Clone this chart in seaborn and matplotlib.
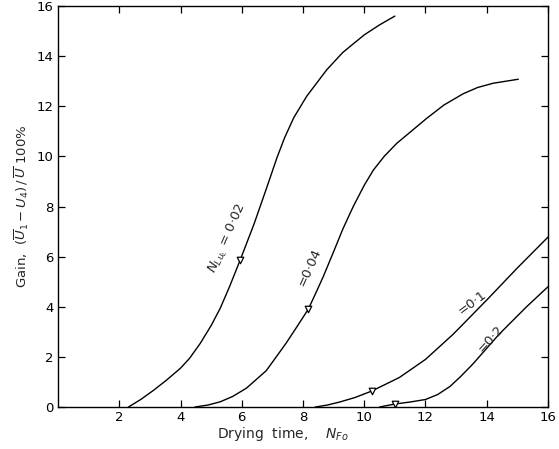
import matplotlib
matplotlib.use("Agg")
import matplotlib.pyplot as plt
import seaborn as sns
import pandas as pd

# ---- data ----
x_002 = [2.30, 2.7, 3.1, 3.55, 4.0, 4.3, 4.65, 5.0, 5.3, 5.6, 5.95, 6.4, 6.8, 7.15, 7.4, 7.7,
         8.12, 8.77, 9.3, 10.0, 10.5, 11.0]
y_002 = [0.0, 0.3, 0.65, 1.08, 1.55, 1.95, 2.55, 3.25, 3.95, 4.8, 5.87, 7.3, 8.7, 9.95, 10.75, 11.55,
         12.4, 13.45, 14.15, 14.85, 15.25, 15.6]

x_004 = [4.47, 4.9, 5.3, 5.7, 6.15, 6.8, 7.45, 7.8, 8.17, 8.4, 8.66, 9.0, 9.3, 9.64, 10.0, 10.3,
         10.65, 11.06, 12.04, 12.6, 13.23, 13.7, 14.21, 15.03]
y_004 = [0.0, 0.08, 0.21, 0.42, 0.75, 1.45, 2.55, 3.2, 3.9, 4.5, 5.2, 6.2, 7.1, 8.0, 8.85, 9.46,
         10.0, 10.52, 11.52, 12.05, 12.5, 12.75, 12.92, 13.08]

x_01 = [8.4, 8.8, 9.2, 9.7, 10.25, 11.15, 12.0, 12.9, 14.0, 15.0, 16.0]
y_01 = [0.0, 0.08, 0.2, 0.38, 0.64, 1.18, 1.9, 2.9, 4.27, 5.55, 6.78]

x_02 = [10.5, 11.0, 11.5, 12.0, 12.4, 12.8, 13.15, 13.55, 14.4, 15.3, 16.0]
y_02 = [0.0, 0.12, 0.2, 0.3, 0.5, 0.82, 1.22, 1.72, 2.9, 4.0, 4.8]

series_names = ["0·02", "0·04", "0·1", "0·2"]
marker_x = [5.95, 8.17, 10.25, 11.0]
marker_y = [5.87, 3.9, 0.64, 0.12]

x_ticks = [2, 4, 6, 8, 10, 12, 14, 16]
y_ticks = [0, 2, 4, 6, 8, 10, 12, 14, 16]

# ---- build tables ----
frames = []
for name, xs, ys in zip(series_names, [x_002, x_004, x_01, x_02], [y_002, y_004, y_01, y_02]):
    frames.append(pd.DataFrame({"x": xs, "y": ys, "series": name}))
df = pd.concat(frames, ignore_index=True)
mk = pd.DataFrame({"x": marker_x, "y": marker_y, "series": series_names})

sns.set_style("ticks")
plt.rcParams["font.family"] = ["DejaVu Sans"]
plt.rcParams["mathtext.fontset"] = "dejavusans"

fig = plt.figure(figsize=(5.59, 4.49), dpi=100)
ax = fig.add_axes([0.1038, 0.0935, 0.8765, 0.893])

sns.lineplot(data=df, x="x", y="y", hue="series", palette=["black"] * 4,
             legend=False, linewidth=1.0, ax=ax, estimator=None, sort=False)
for ln in ax.get_lines():
    ln.set_solid_joinstyle("round")
sns.scatterplot(data=mk, x="x", y="y", marker="v", s=22, facecolor="white",
                edgecolor="black", linewidth=0.9, ax=ax, legend=False, zorder=5)

ax.set_xlim(0, 16)
ax.set_ylim(0, 16)
ax.set_xticks(x_ticks)
ax.set_yticks(y_ticks)
ax.set_xticklabels([str(t) for t in x_ticks])
ax.set_yticklabels([str(t) for t in y_ticks])
ax.tick_params(direction="in", length=5, width=0.9, top=True, right=True,
               labelsize=9.5, colors="black", pad=3)
for s in ax.spines.values():
    s.set_linewidth(1.0)
    s.set_color("black")

ax.set_xlabel(r"Drying  time,    $N_{Fo}$", fontsize=10, labelpad=3)
ax.xaxis.set_label_coords(0.459, -0.045, transform=ax.transAxes)
ax.xaxis.label.set_va("top")
ax.set_ylabel(r"Gain,  $(\overline{U}_1 - U_4)\,/\,\overline{U}$ 100%", fontsize=9.5, labelpad=4)

ax.text(5.53, 6.73, r"$N_{Lu_L}$ = 0·02", rotation=66, fontsize=9.5,
        ha="center", va="center", rotation_mode="anchor")
ax.text(8.2, 5.57, "=0·04", rotation=66, fontsize=9.5,
        ha="center", va="center", rotation_mode="anchor")
ax.text(13.52, 4.15, "=0·1", rotation=37, fontsize=9.5,
        ha="center", va="center", rotation_mode="anchor")
ax.text(14.14, 2.74, "=0·2", rotation=48, fontsize=9.5,
        ha="center", va="center", rotation_mode="anchor")

fig.savefig("out.png", dpi=100)
